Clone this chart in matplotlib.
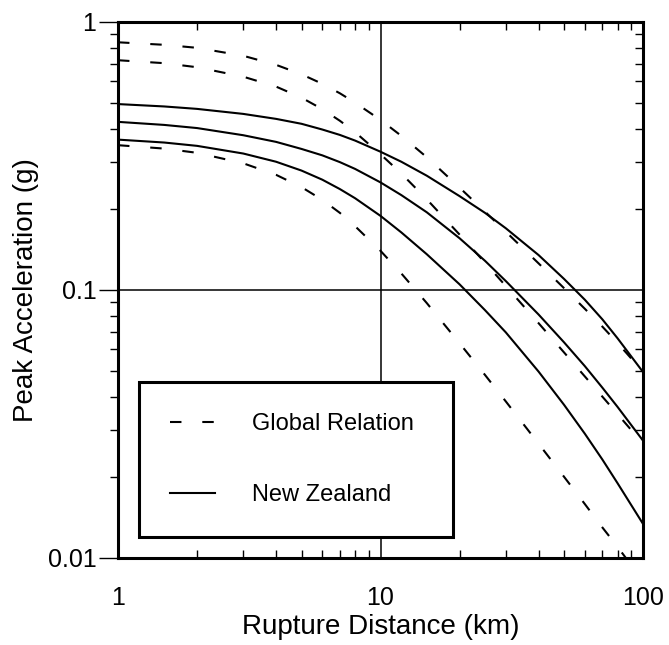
import numpy as np
import matplotlib.pyplot as plt

plt.rcParams['font.family'] = ['Liberation Sans', 'DejaVu Sans']

# rupture distance (km)
dist = [1, 1.5, 2, 3, 4, 5, 6, 7, 8, 10, 12, 15, 20, 25, 30, 40, 50, 60, 70, 80, 100]

# global relation (dashed): upper, median, lower
glob_hi = [0.84, 0.822, 0.801, 0.748, 0.692, 0.638, 0.588, 0.542, 0.500, 0.431, 0.376, 0.313,
           0.241, 0.196, 0.165, 0.1257, 0.1016, 0.0851, 0.073, 0.0634, 0.0495]
glob_med = [0.72, 0.702, 0.678, 0.625, 0.574, 0.522, 0.473, 0.428, 0.388, 0.321, 0.272, 0.218,
            0.161, 0.1265, 0.1035, 0.0752, 0.0585, 0.0476, 0.040, 0.0344, 0.0267]
glob_lo = [0.347, 0.337, 0.325, 0.297, 0.269, 0.242, 0.217, 0.194, 0.173, 0.140, 0.1153, 0.0894,
           0.0633, 0.0482, 0.0384, 0.0267, 0.0201, 0.0159, 0.0130, 0.011, 0.0082]

# new zealand (solid): upper, median, lower
nz_hi = [0.494, 0.484, 0.474, 0.454, 0.435, 0.417, 0.397, 0.379, 0.361, 0.328, 0.301, 0.267,
         0.224, 0.194, 0.170, 0.135, 0.110, 0.092, 0.0777, 0.066, 0.0494]
nz_med = [0.424, 0.413, 0.402, 0.378, 0.357, 0.336, 0.318, 0.300, 0.283, 0.252, 0.226, 0.195,
          0.156, 0.1285, 0.108, 0.081, 0.0638, 0.052, 0.0432, 0.0366, 0.0274]
nz_lo = [0.364, 0.355, 0.345, 0.323, 0.301, 0.279, 0.258, 0.238, 0.220, 0.189, 0.164, 0.136,
         0.105, 0.0841, 0.0695, 0.0496, 0.0373, 0.0291, 0.0233, 0.0190, 0.0134]

xticks = [1, 10, 100]
xtick_labels = ['1', '10', '100']
yticks = [0.01, 0.1, 1]
ytick_labels = ['0.01', '0.1', '1']

fig = plt.figure(figsize=(6.69, 6.45), dpi=100)
ax = fig.add_axes([0.1764, 0.1349, 0.7848, 0.831])

dash = (0, (5.5, 10))
ax.plot(dist, glob_hi, color='black', lw=1.5, ls=dash, label='Global Relation')
ax.plot(dist, glob_med, color='black', lw=1.5, ls=dash)
ax.plot(dist, glob_lo, color='black', lw=1.5, ls=dash)
ax.plot(dist, nz_hi, color='black', lw=1.5, label='New Zealand')
ax.plot(dist, nz_med, color='black', lw=1.5)
ax.plot(dist, nz_lo, color='black', lw=1.5)

ax.axvline(10, color='black', lw=1.1)
ax.axhline(0.1, color='black', lw=1.1)

ax.set_xscale('log')
ax.set_yscale('log')
ax.set_xlim(1, 100)
ax.set_ylim(0.01, 1)
ax.set_xticks(xticks)
ax.set_xticklabels(xtick_labels)
ax.set_yticks(yticks)
ax.set_yticklabels(ytick_labels)

for s in ax.spines.values():
    s.set_linewidth(2.2)

ax.tick_params(axis='x', which='both', direction='in', top=True, width=1, labelsize=18)
ax.tick_params(axis='x', which='major', length=0, pad=20)
ax.tick_params(axis='x', which='minor', length=6)
ax.tick_params(axis='y', which='both', direction='out', right=False, width=1, labelsize=18)
ax.tick_params(axis='y', which='major', length=14, pad=1.5)
ax.tick_params(axis='y', which='minor', length=6, labelleft=False)

# right side ticks point inward
ax2 = ax.twinx()
ax2.set_yscale('log')
ax2.set_ylim(0.01, 1)
ax2.tick_params(axis='y', which='both', direction='in', width=1, labelright=False)
ax2.tick_params(axis='y', which='minor', length=6)
ax2.tick_params(axis='y', which='major', length=0)
for s in ax2.spines.values():
    s.set_visible(False)

ax.set_xlabel('Rupture Distance (km)', fontsize=20, labelpad=3)
ax.set_ylabel('Peak Acceleration (g)', fontsize=20, labelpad=6)

leg = ax.legend(loc='lower left', bbox_to_anchor=(0.04, 0.039, 0.598, 0.295), mode='expand',
                borderaxespad=0, fontsize=17, handlelength=1.9, handletextpad=1.6,
                borderpad=1.3, labelspacing=2.1, fancybox=False, framealpha=1)
leg.get_frame().set_edgecolor('black')
leg.get_frame().set_linewidth(2.2)

fig.savefig('out.png', dpi=100)
